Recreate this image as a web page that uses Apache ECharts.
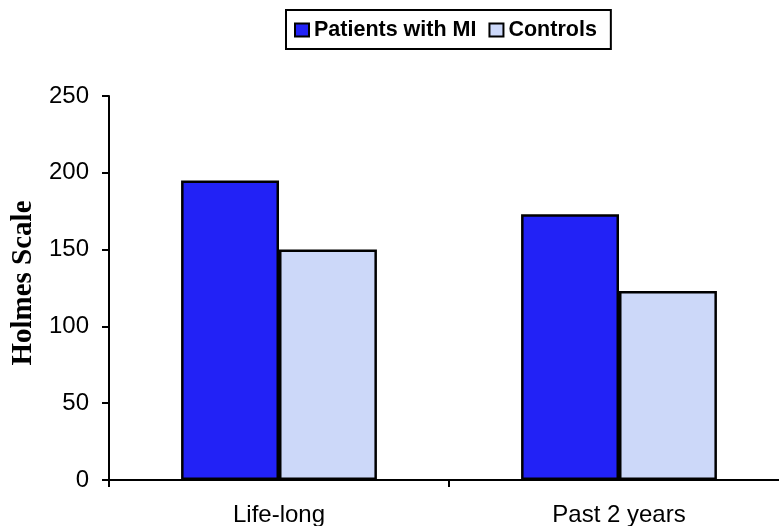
<!DOCTYPE html>
<html>
<head>
<meta charset="utf-8">
<script src="https://cdn.jsdelivr.net/npm/echarts@6/dist/echarts.min.js"></script>
<style>
  html, body { margin: 0; padding: 0; background: #fff; }
  #chart { width: 779px; height: 526px; }
</style>
</head>
<body>
<div id="chart"></div>
<script>
// Holmes scale scores by period
const categories = ['Life-long', 'Past 2 years'];
const seriesNames = ['Patients with MI', 'Controls'];
const patientsMI = [195, 173];
const controls = [150, 123];
const yTicks = [0, 50, 100, 150, 200, 250];

const chart = echarts.init(document.getElementById('chart'), null, { renderer: 'canvas' });

const sans = '"Liberation Sans", Arial, sans-serif';
const serif = '"Liberation Serif", "Times New Roman", serif';

chart.setOption({
  animation: false,
  backgroundColor: '#ffffff',
  legend: {
    data: seriesNames,
    left: 286,
    top: 10,
    padding: [9, 14, 8, 8],
    itemGap: 12,
    itemWidth: 14,
    itemHeight: 13,
    borderColor: '#000',
    borderWidth: 2,
    icon: 'rect',
    textStyle: { fontFamily: sans, fontSize: 21.5, fontWeight: 'bold', color: '#000' }
  },
  // plot area runs past the right edge of the canvas
  grid: { left: 109, width: 680, top: 96, bottom: 46, containLabel: false, outerBoundsMode: 'none' },
  xAxis: {
    type: 'category',
    data: categories,
    axisLine: { lineStyle: { color: '#000', width: 2 } },
    axisTick: { show: true, length: 7, lineStyle: { color: '#000', width: 2 } },
    axisLabel: { color: '#000', fontFamily: sans, fontSize: 24, margin: 23 },
    splitLine: { show: false }
  },
  yAxis: {
    type: 'value',
    min: yTicks[0],
    max: yTicks[yTicks.length - 1],
    interval: 50,
    name: 'Holmes Scale',
    nameLocation: 'middle',
    nameGap: 71,
    nameTextStyle: { fontFamily: serif, fontSize: 29, fontWeight: 'bold', color: '#000', padding: [0, 0, 0, 10] },
    axisLine: { show: true, lineStyle: { color: '#000', width: 2 } },
    axisTick: { show: true, length: 7, lineStyle: { color: '#000', width: 2 } },
    axisLabel: { color: '#000', fontFamily: sans, fontSize: 24, margin: 20 },
    splitLine: { show: false }
  },
  series: [
    {
      name: seriesNames[0],
      type: 'bar',
      data: patientsMI,
      barGap: '0%',
      barCategoryGap: '42.4%',
      itemStyle: { color: '#2222F6', borderColor: '#000', borderWidth: 2.5 }
    },
    {
      name: seriesNames[1],
      type: 'bar',
      data: controls,
      itemStyle: { color: '#CCD8F9', borderColor: '#000', borderWidth: 2.5 }
    }
  ]
});
</script>
</body>
</html>
